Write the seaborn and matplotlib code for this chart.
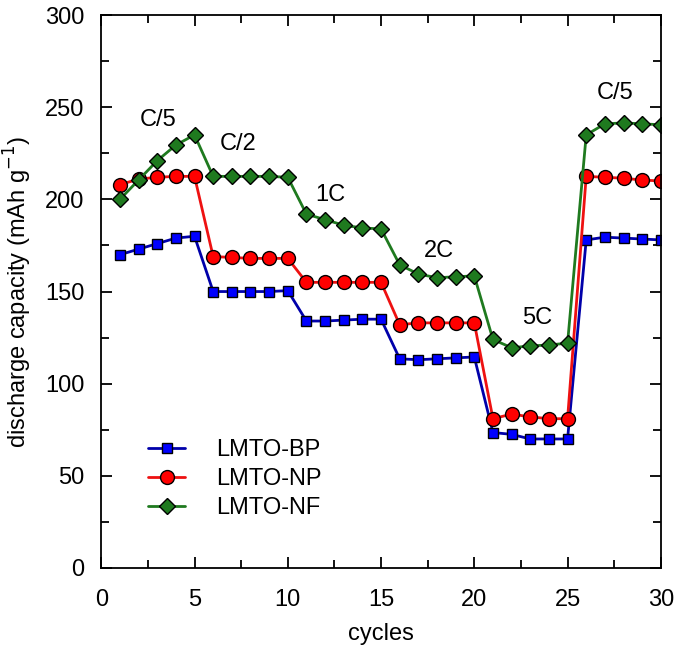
import numpy as np
import matplotlib.pyplot as plt
import matplotlib.ticker as mticker
import pandas as pd
import seaborn as sns

cycles = list(range(1, 31))
bp = [170, 173, 176, 179, 180, 150, 150, 150, 150, 150.5,
      134, 134, 134.5, 135, 135, 113.5, 113, 113.5, 114, 114.5,
      73.5, 72.5, 70, 70, 70, 178, 179.5, 179, 178.5, 178]
np_ = [208, 211, 212, 212.5, 212.5, 169, 168.5, 168, 168, 168,
       155, 155, 155, 155, 155, 132, 133, 133, 133, 133,
       81, 83.5, 82, 81, 81, 212.5, 212, 211.5, 210.5, 210]
nf = [200, 210.5, 221, 229.5, 235, 212.5, 212.5, 212.5, 212.5, 212,
      192, 189, 186, 184.5, 184, 164.5, 159.5, 157.5, 158, 158.5,
      124, 119.5, 120.5, 121, 122, 235, 241, 241.5, 241, 240.5]
series_names = ['LMTO-BP', 'LMTO-NP', 'LMTO-NF']
rate_labels = ['C/5', 'C/2', '1C', '2C', '5C', 'C/5']
rate_x = [3.03, 7.34, 12.27, 18.1, 23.35, 27.53]
rate_y = [243, 230, 202.5, 172, 135.5, 257.5]

df = pd.DataFrame({'cycle': cycles * 3,
                   'capacity': bp + np_ + nf,
                   'sample': sum([[n] * 30 for n in series_names], [])})

sns.set_style('ticks')
plt.rcParams['font.family'] = ['Liberation Sans', 'DejaVu Sans']

fig = plt.figure(figsize=(6.75, 6.57), dpi=100)
ax = fig.add_axes([0.15, 0.1355, 0.829, 0.8415])

styles = {'LMTO-BP': ('#0000ff', '#0000aa', 's', 7.5),
          'LMTO-NP': ('#ff0000', '#ee1111', 'o', 10),
          'LMTO-NF': ('#1f7a1f', '#1f7a1f', 'D', 8)}
for name in series_names:
    face, line, mk, ms = styles[name]
    sub = df[df['sample'] == name]
    sns.lineplot(data=sub, x='cycle', y='capacity', ax=ax, color=line,
                 marker=mk, markersize=ms, markerfacecolor=face,
                 markeredgecolor='black', markeredgewidth=1,
                 linewidth=2, label=name)

for t, x, y in zip(rate_labels, rate_x, rate_y):
    ax.text(x, y, t, fontsize=17, ha='center', va='center', color='black')

ax.set_xlim(0, 30)
ax.set_ylim(0, 300)
ax.xaxis.set_major_locator(mticker.MultipleLocator(5))
ax.xaxis.set_minor_locator(mticker.MultipleLocator(2.5))
ax.yaxis.set_major_locator(mticker.MultipleLocator(50))
ax.yaxis.set_minor_locator(mticker.MultipleLocator(25))
ax.tick_params(which='both', direction='in', top=True, right=True,
               labelsize=17, width=1.3, color='black', labelcolor='black')
ax.tick_params(which='major', length=8)
ax.tick_params(which='minor', length=6)
ax.tick_params(axis='x', pad=15)
ax.tick_params(axis='y', pad=12)
for s in ax.spines.values():
    s.set_linewidth(1.3)
    s.set_color('black')
ax.set_xlabel('cycles', fontsize=17, color='black')
ax.set_ylabel('discharge capacity (mAh g$^{-1}$)', fontsize=17,
              color='black')
ax.xaxis.set_label_coords(0.5, -0.1)
ax.yaxis.set_label_coords(-0.121, 0.5)

leg = ax.legend(loc='lower left', bbox_to_anchor=(0.045, 0.05), frameon=False,
                fontsize=17, handlelength=1.6, labelspacing=0.3,
                handletextpad=1.3)
for t in leg.get_texts():
    t.set_color('black')

fig.savefig('out.png', dpi=100)
